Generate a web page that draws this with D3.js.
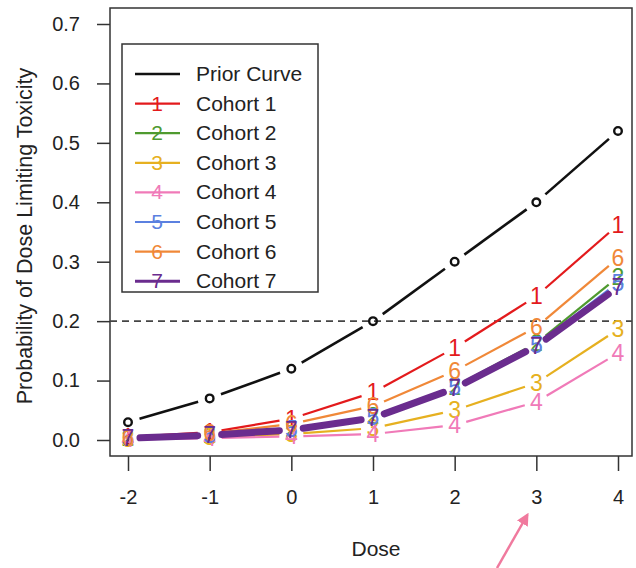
<!DOCTYPE html>
<html>
<head>
<meta charset="utf-8">
<script src="https://cdn.jsdelivr.net/npm/d3@7"></script>
<style>
body { margin: 0; background: #fff; }
text { font-family: "Liberation Sans", Arial, sans-serif; }
</style>
</head>
<body>
<script>
var doses = [-2, -1, 0, 1, 2, 3, 4];
var prior = [0.03, 0.07, 0.12, 0.20, 0.30, 0.40, 0.52];
var cohort1 = [0.005, 0.013, 0.036, 0.080, 0.155, 0.242, 0.362];
var cohort2 = [0.003, 0.009, 0.019, 0.040, 0.090, 0.163, 0.274];
var cohort3 = [0.002, 0.005, 0.010, 0.020, 0.050, 0.096, 0.186];
var cohort4 = [0.001, 0.003, 0.006, 0.010, 0.025, 0.064, 0.146];
var cohort5 = [0.003, 0.008, 0.018, 0.038, 0.089, 0.160, 0.265];
var cohort6 = [0.004, 0.011, 0.027, 0.057, 0.116, 0.190, 0.306];
var cohort7 = [0.003, 0.008, 0.017, 0.037, 0.087, 0.158, 0.257];
var cohortNames = ["Cohort 1", "Cohort 2", "Cohort 3", "Cohort 4", "Cohort 5", "Cohort 6", "Cohort 7"];
var cohortColors = ["#e31a1c", "#4f9a2f", "#e6b020", "#f07ab8", "#5b80e0", "#f08838", "#6a2c8e"];
var cohortWidths = [2.2, 2.2, 2.2, 2.2, 2.2, 2.2, 7];
var yTicks = [0.0, 0.1, 0.2, 0.3, 0.4, 0.5, 0.6, 0.7];
var target = 0.2;

var w = 636, h = 568;
var svg = d3.select("body").append("svg")
    .attr("width", w).attr("height", h);

var x = d3.scaleLinear().domain([-2, 4]).range([128, 618]);
var y = d3.scaleLinear().domain([0, 0.7]).range([440, 24]);
var box = {l: 110, r: 632, t: 8, b: 456};

// axes, R style
var yAxis = svg.append("g")
    .attr("transform", "translate(" + box.l + ",0)")
    .call(d3.axisLeft(y).tickValues(yTicks).tickFormat(d3.format(".1f")).tickSize(13).tickPadding(17));
var xAxis = svg.append("g")
    .attr("transform", "translate(0," + box.b + ")")
    .call(d3.axisBottom(x).tickValues(doses).tickFormat(d3.format("d")).tickSize(15).tickPadding(19));
[yAxis, xAxis].forEach(function(a){
    a.select(".domain").remove();
    a.selectAll("line").attr("stroke", "#333").attr("stroke-width", 1.5);
    a.selectAll("text").attr("font-size", "20px").attr("fill", "#222")
        .attr("font-family", "Liberation Sans, Arial, sans-serif");
});
xAxis.selectAll("text").text(function(d){ return d < 0 ? "-" + Math.abs(d) : d; });

svg.append("rect")
    .attr("x", box.l).attr("y", box.t)
    .attr("width", box.r - box.l).attr("height", box.b - box.t)
    .attr("fill", "none").attr("stroke", "#333").attr("stroke-width", 1.5);

svg.append("text")
    .attr("x", 376).attr("y", 556)
    .attr("text-anchor", "middle").attr("font-size", "21px").attr("fill", "#222")
    .text("Dose");
svg.append("text")
    .attr("transform", "translate(32,236) rotate(-90)")
    .attr("text-anchor", "middle").attr("font-size", "21.5px").attr("fill", "#222")
    .text("Probability of Dose Limiting Toxicity");

// target line
svg.append("line")
    .attr("x1", box.l).attr("x2", box.r)
    .attr("y1", y(target)).attr("y2", y(target))
    .attr("stroke", "#444").attr("stroke-width", 1.6)
    .attr("stroke-dasharray", "7,5");

// type "b": segments with gaps around points
function gapSegments(vals, gap) {
    var segs = [];
    for (var i = 0; i < doses.length - 1; i++) {
        var x0 = x(doses[i]), y0 = y(vals[i]), x1 = x(doses[i + 1]), y1 = y(vals[i + 1]);
        var dx = x1 - x0, dy = y1 - y0, len = Math.sqrt(dx * dx + dy * dy);
        if (len <= 2 * gap) continue;
        var ux = dx / len, uy = dy / len;
        segs.push([x0 + ux * gap, y0 + uy * gap, x1 - ux * gap, y1 - uy * gap]);
    }
    return segs;
}

function drawSeries(vals, color, width, gap) {
    svg.append("g").selectAll("line")
        .data(gapSegments(vals, gap))
        .enter().append("line")
        .attr("x1", function(d){ return d[0]; })
        .attr("y1", function(d){ return d[1]; })
        .attr("x2", function(d){ return d[2]; })
        .attr("y2", function(d){ return d[3]; })
        .attr("stroke", color).attr("stroke-width", width)
        .attr("stroke-linecap", width > 3 ? "round" : "butt");
}

drawSeries(prior, "#111", 2.6, 12);
svg.append("g").selectAll("circle")
    .data(prior).enter().append("circle")
    .attr("cx", function(d, i){ return x(doses[i]); })
    .attr("cy", function(d){ return y(d); })
    .attr("r", 3.8)
    .attr("fill", "none").attr("stroke", "#111").attr("stroke-width", 2.4);

var cohorts = [cohort1, cohort2, cohort3, cohort4, cohort5, cohort6, cohort7];
cohorts.forEach(function(vals, k){
    drawSeries(vals, cohortColors[k], cohortWidths[k], 12);
    svg.append("g").selectAll("text")
        .data(vals).enter().append("text")
        .attr("x", function(d, i){ return x(doses[i]); })
        .attr("y", function(d){ return y(d) + 8; })
        .attr("text-anchor", "middle")
        .attr("font-size", "23px")
        .attr("fill", cohortColors[k])
        .text(k + 1);
});

// legend
var leg = svg.append("g");
leg.append("rect")
    .attr("x", 122).attr("y", 44).attr("width", 196).attr("height", 248)
    .attr("fill", "#fff").attr("stroke", "#333").attr("stroke-width", 1.5);
var legNames = ["Prior Curve"].concat(cohortNames);
var legColors = ["#111"].concat(cohortColors);
var legRow = leg.selectAll("g.row")
    .data(legNames).enter().append("g")
    .attr("transform", function(d, i){ return "translate(0," + (74 + i * 29.6) + ")"; });
legRow.append("line")
    .attr("x1", 135).attr("x2", 180).attr("y1", 0).attr("y2", 0)
    .attr("stroke", function(d, i){ return legColors[i]; })
    .attr("stroke-width", function(d, i){ return i == 0 ? 2.6 : (i == 7 ? 3 : 2.2); });
legRow.filter(function(d, i){ return i > 0; }).append("text")
    .attr("x", 157).attr("y", 7)
    .attr("text-anchor", "middle").attr("font-size", "21px")
    .attr("fill", function(d, i){ return cohortColors[i]; })
    .text(function(d, i){ return i + 1; });
legRow.append("text")
    .attr("x", 196).attr("y", 7)
    .attr("font-size", "21px").attr("fill", "#222")
    .text(function(d){ return d; });

// pink arrow pointing at dose 3
svg.append("defs").append("marker")
    .attr("id", "ah").attr("viewBox", "0 0 10 10")
    .attr("refX", 8).attr("refY", 5)
    .attr("markerWidth", 5).attr("markerHeight", 5)
    .attr("orient", "auto")
    .append("path").attr("d", "M0,0 L10,5 L0,10 z").attr("fill", "#f07a9e");
svg.append("line")
    .attr("x1", 497).attr("y1", 568)
    .attr("x2", x(3) - 9).attr("y2", 515)
    .attr("stroke", "#f07a9e").attr("stroke-width", 2.5)
    .attr("marker-end", "url(#ah)");
</script>
</body>
</html>
